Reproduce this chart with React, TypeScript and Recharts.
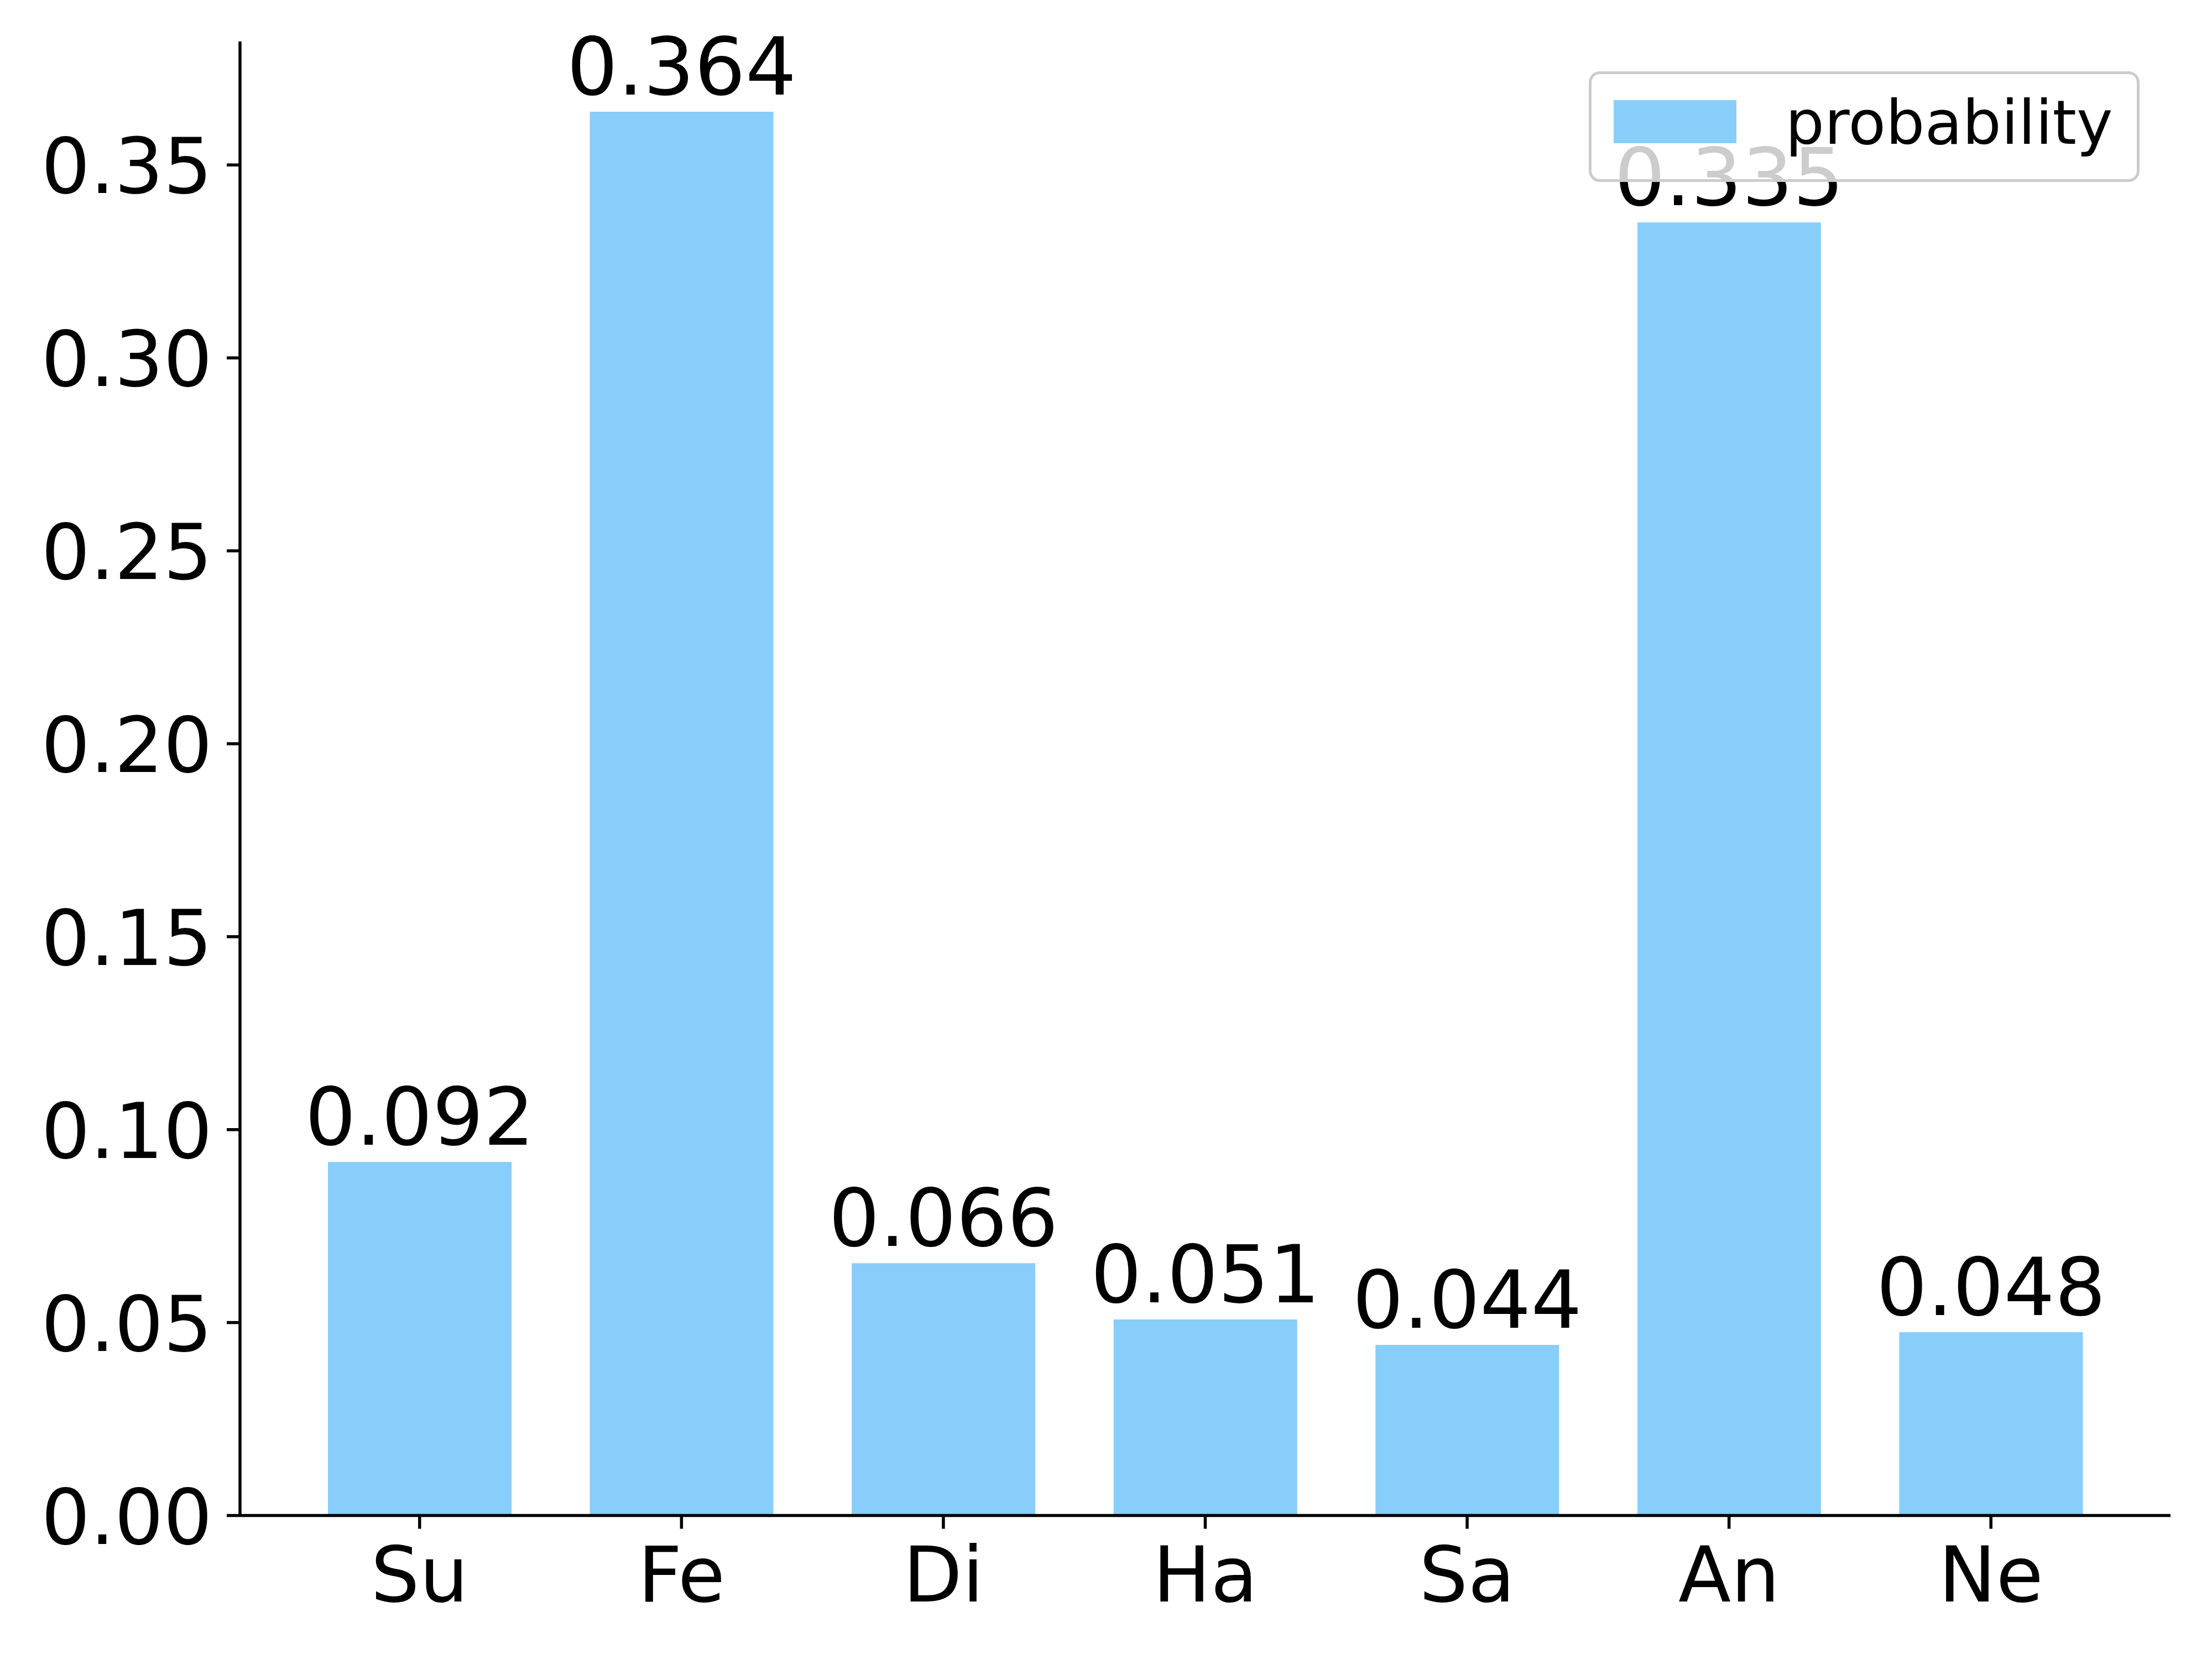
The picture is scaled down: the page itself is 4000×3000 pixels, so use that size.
import React from 'react';
import { BarChart, Bar, XAxis, YAxis, Legend, LabelList } from 'recharts';

const categories = ['Su', 'Fe', 'Di', 'Ha', 'Sa', 'An', 'Ne'];
const probs = [0.0916, 0.3638, 0.0654, 0.0508, 0.0442, 0.3351, 0.0475];
const valueLabels = ['0.092', '0.364', '0.066', '0.051', '0.044', '0.335', '0.048'];
const yTicks = [0, 0.05, 0.1, 0.15, 0.2, 0.25, 0.3, 0.35];

const data = categories.map((name, i) => ({ name, p: probs[i] }));

const FONT = 'DejaVu Sans';
const BAR_COLOR = '#87CEFA';
const AXIS = { stroke: '#000', strokeWidth: 5.5 };

function YTick({ x, y, payload }: any) {
  return (
    <text x={x} y={y + 51} textAnchor="end" fontFamily={FONT} fontSize={139} fill="#000">
      {Number(payload.value).toFixed(2)}
    </text>
  );
}

function XTick({ x, y, payload }: any) {
  return (
    <text x={x} y={y + 107} textAnchor="middle" fontFamily={FONT} fontSize={139} fill="#000">
      {payload.value}
    </text>
  );
}

function BarValue({ x, y, width, index }: any) {
  return (
    <text x={x + width / 2} y={y - 31} textAnchor="middle" fontFamily={FONT} fontSize={145} fill="#000">
      {valueLabels[index]}
    </text>
  );
}

function LegendBox({ payload }: any) {
  return (
    <div
      style={{
        position: 'relative',
        boxSizing: 'border-box',
        width: 996,
        height: 200,
        border: '5.5px solid #cccccc',
        borderRadius: 20,
        background: 'rgba(255,255,255,0.8)',
      }}
    >
      {(payload ?? []).map((p: any) => (
        <React.Fragment key={p.value}>
          <div
            style={{
              position: 'absolute', left: 39.5, top: 46.5, width: 222, height: 78,
              backgroundColor: p.color,
            }}
          />
          <div
            style={{
              position: 'absolute', left: 350.5, top: 31.5,
              fontFamily: FONT, fontSize: 111, lineHeight: 1, color: '#000', whiteSpace: 'nowrap',
            }}
          >
            {p.value}
          </div>
        </React.Fragment>
      ))}
    </div>
  );
}

export default function App() {
  return (
    <div style={{ position: 'absolute', left: 0, top: 0, width: 4000, height: 3000, background: '#fff' }}>
      <BarChart
        width={4000}
        height={3000}
        data={data}
        margin={{ top: 75, right: 75, bottom: 0, left: 0 }}
        barCategoryGap="15%"
      >
        <XAxis
          dataKey="name"
          type="category"
          interval={0}
          padding={{ left: 88, right: 88 }}
          height={259.5}
          tickSize={24}
          tickMargin={24}
          axisLine={AXIS}
          tickLine={AXIS}
          tick={<XTick />}
        />
        <YAxis
          type="number"
          domain={[0, 0.382]}
          ticks={yTicks}
          allowDataOverflow
          width={434}
          tickSize={24}
          tickMargin={26}
          axisLine={AXIS}
          tickLine={AXIS}
          tick={<YTick />}
        />
        <Legend
          layout="horizontal"
          verticalAlign="middle"
          align="center"
          content={<LegendBox />}
          wrapperStyle={{ left: 2873, top: 129, width: 996, height: 200 }}
        />
        <Bar dataKey="p" name="probability" fill={BAR_COLOR} isAnimationActive={false}>
          <LabelList dataKey="p" content={<BarValue />} />
        </Bar>
      </BarChart>
    </div>
  );
}
